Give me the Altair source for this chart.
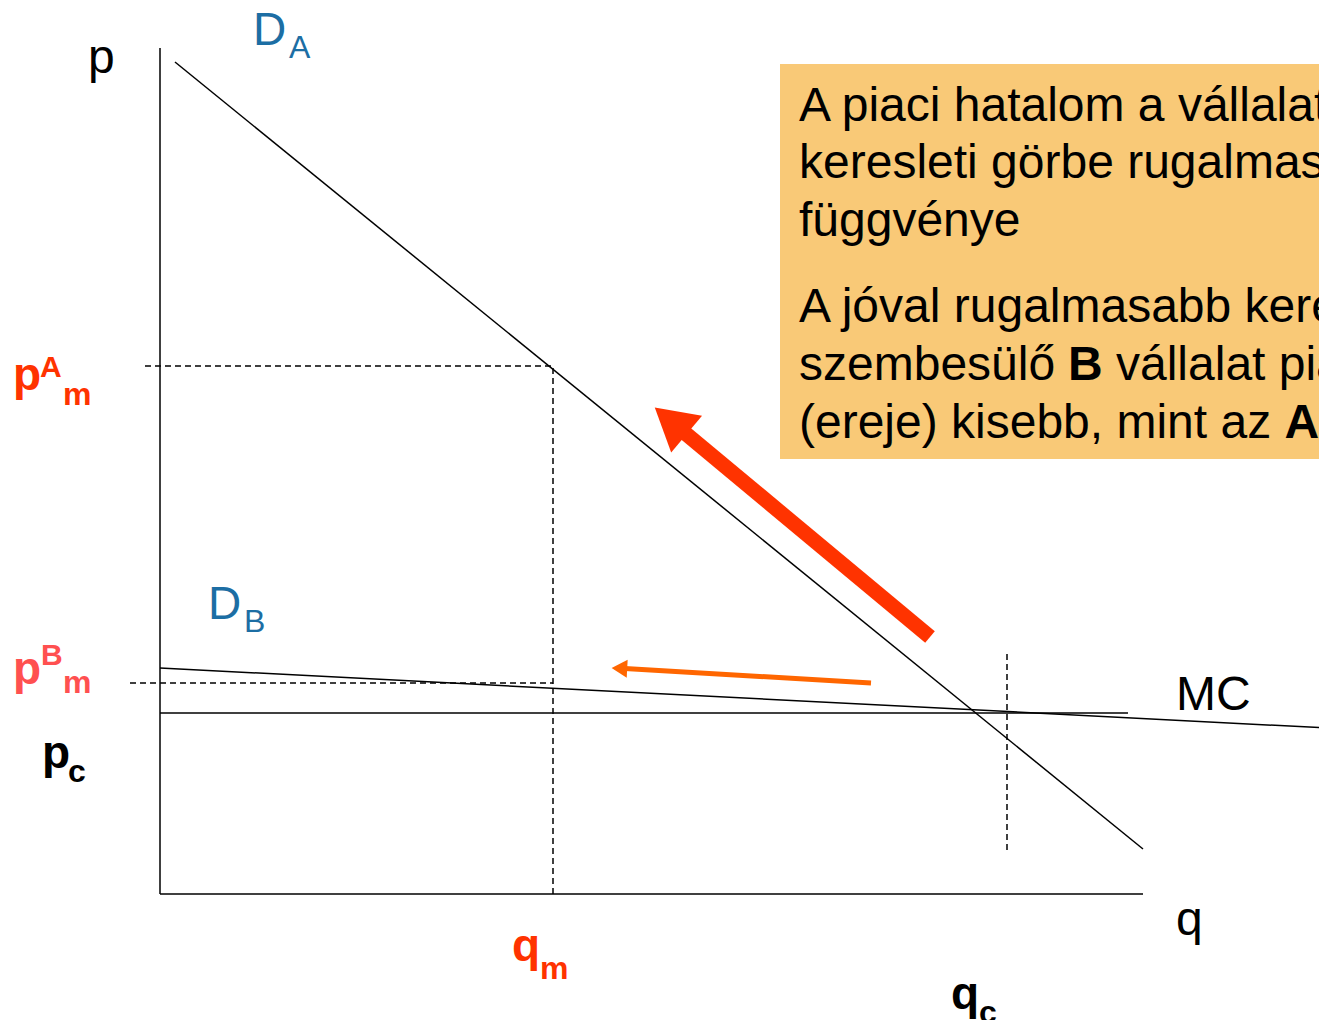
import altair as alt
import pandas as pd

FONT = "Liberation Sans"
RED = "#FF3300"
SALMON = "#FF5050"
BLUE = "#1C6EA4"
ORANGE = "#FF6600"
BOX = "#F9C977"

# value ranges of the two axes (q = quantity, p = price)
Q_DOMAIN = [-152, 1159]
P_DOMAIN = [-126, 886]

# solid lines: axes, demand curves, marginal cost
solid_names = ["p tengely", "q tengely", "D_A", "D_B", "MC"]
solid_q1 = [0, 0, 15, 0, 0]
solid_p1 = [0, 0, 832, 226, 181]
solid_q2 = [0, 983, 983, 1167, 968]
solid_p2 = [846, 0, 45, 166, 181]

# dashed guide lines
dash_names = ["pAm", "qm", "pBm", "qc"]
dash_q1 = [-15, 393, -30, 847]
dash_p1 = [528, 0, 211, 44]
dash_q2 = [393, 393, 393, 847]
dash_p2 = [528, 528, 211, 241]

# arrows: tail, end of shaft, centre of head
arrowA_tail = (770, 257)
arrowA_shaft_end = (525, 461)
arrowA_head = (516, 468.7)
arrowB_tail = (711, 211)
arrowB_shaft_end = (465, 225.4)
arrowB_head = (462, 225.5)

# info box corners
box_q = [620, 1170]
box_p = [830, 435]

# labels: text, q, p
axis_labels = [("p", -72, 821), ("q", 1016, -41), ("MC", 1016, 184)]
d_main = [("D", 93, 849), ("D", 48, 275)]
d_sub = [("A", 129, 836), ("B", 84, 262)]
red_main = [("p", -147, 504), ("q", 352, -67)]
red_sup = [("A", -120, 517)]
red_sub = [("m", -97, 489), ("m", 380, -85)]
salmon_main = [("p", -147, 210)]
salmon_sup = [("B", -119, 229)]
salmon_sub = [("m", -97, 201)]
black_main = [("p", -118, 126), ("q", 791, -115)]
black_sub = [("c", -92, 112), ("c", 819, -129)]

# info box text lines (text, q, baseline p)
box_lines = [
    ("A piaci hatalom a vállalat", 639, 773),
    ("keresleti görbe rugalmasságának", 639, 716),
    ("függvénye", 639, 658),
    ("A jóval rugalmasabb keresleti görbével", 639, 572),
    ("szembesülő", 639, 514),
    ("vállalat piaci hatalma", 956, 514),
    ("(ereje) kisebb, mint az", 639, 456),
]
box_bold = [("B", 908, 514), ("A", 1124.5, 456)]

xs = alt.Scale(domain=Q_DOMAIN, nice=False, zero=False)
ys = alt.Scale(domain=P_DOMAIN, nice=False, zero=False)


def X(f):
    return alt.X(f, type="quantitative", scale=xs, axis=None)


def Y(f):
    return alt.Y(f, type="quantitative", scale=ys, axis=None)


def seg_df(q1, p1, q2, p2):
    return pd.DataFrame({"q1": q1, "p1": p1, "q2": q2, "p2": p2})


def text_layer(rows, size, color, bold=False):
    df = pd.DataFrame(rows, columns=["t", "q", "p"])
    return alt.Chart(df).mark_text(
        font=FONT, fontSize=size, color=color,
        fontWeight="bold" if bold else "normal",
        align="left", baseline="alphabetic", clip=True,
    ).encode(x=X("q"), y=Y("p"), text="t:N")


box = alt.Chart(seg_df([box_q[0]], [box_p[0]], [box_q[1]], [box_p[1]])).mark_rect(
    color=BOX, clip=True
).encode(x=X("q1"), y=Y("p1"), x2="q2", y2="p2")

solid = alt.Chart(seg_df(solid_q1, solid_p1, solid_q2, solid_p2)).mark_rule(
    color="black", strokeWidth=1.5, clip=True
).encode(x=X("q1"), y=Y("p1"), x2="q2", y2="p2")

dashed = alt.Chart(seg_df(dash_q1, dash_p1, dash_q2, dash_p2)).mark_rule(
    color="black", strokeWidth=1.5, strokeDash=[6, 4], clip=True
).encode(x=X("q1"), y=Y("p1"), x2="q2", y2="p2")

shaftA = alt.Chart(seg_df([arrowA_tail[0]], [arrowA_tail[1]], [arrowA_shaft_end[0]], [arrowA_shaft_end[1]])).mark_rule(
    color=RED, strokeWidth=15, strokeCap="butt", clip=True
).encode(x=X("q1"), y=Y("p1"), x2="q2", y2="p2")
headA = alt.Chart(pd.DataFrame({"q": [arrowA_head[0]], "p": [arrowA_head[1]]})).mark_point(
    shape="triangle", filled=True, size=2304, angle=310, color=RED, opacity=1, strokeWidth=0, clip=True
).encode(x=X("q"), y=Y("p"))

shaftB = alt.Chart(seg_df([arrowB_tail[0]], [arrowB_tail[1]], [arrowB_shaft_end[0]], [arrowB_shaft_end[1]])).mark_rule(
    color=ORANGE, strokeWidth=5, strokeCap="butt", clip=True
).encode(x=X("q1"), y=Y("p1"), x2="q2", y2="p2")
headB = alt.Chart(pd.DataFrame({"q": [arrowB_head[0]], "p": [arrowB_head[1]]})).mark_point(
    shape="triangle", filled=True, size=324, angle=273, color=ORANGE, opacity=1, strokeWidth=0, clip=True
).encode(x=X("q"), y=Y("p"))

layers = [
    box, solid, dashed, shaftA, headA, shaftB, headB,
    text_layer(axis_labels, 48, "black"),
    text_layer(d_main, 46, BLUE),
    text_layer(d_sub, 32, BLUE),
    text_layer(red_main, 46, RED, True),
    text_layer(red_sup, 30, RED, True),
    text_layer(red_sub, 32, RED, True),
    text_layer(salmon_main, 46, SALMON, True),
    text_layer(salmon_sup, 30, SALMON, True),
    text_layer(salmon_sub, 32, SALMON, True),
    text_layer(black_main, 46, "black", True),
    text_layer(black_sub, 32, "black", True),
    text_layer(box_lines, 48, "black"),
    text_layer(box_bold, 48, "black", True),
]

chart = alt.layer(*layers).properties(
    width=1311, height=1012, padding=0,
    autosize=alt.AutoSizeParams(type="none"),
).configure_view(strokeWidth=0)

chart.save("out.html", embed_options={"renderer": "svg", "actions": False})
